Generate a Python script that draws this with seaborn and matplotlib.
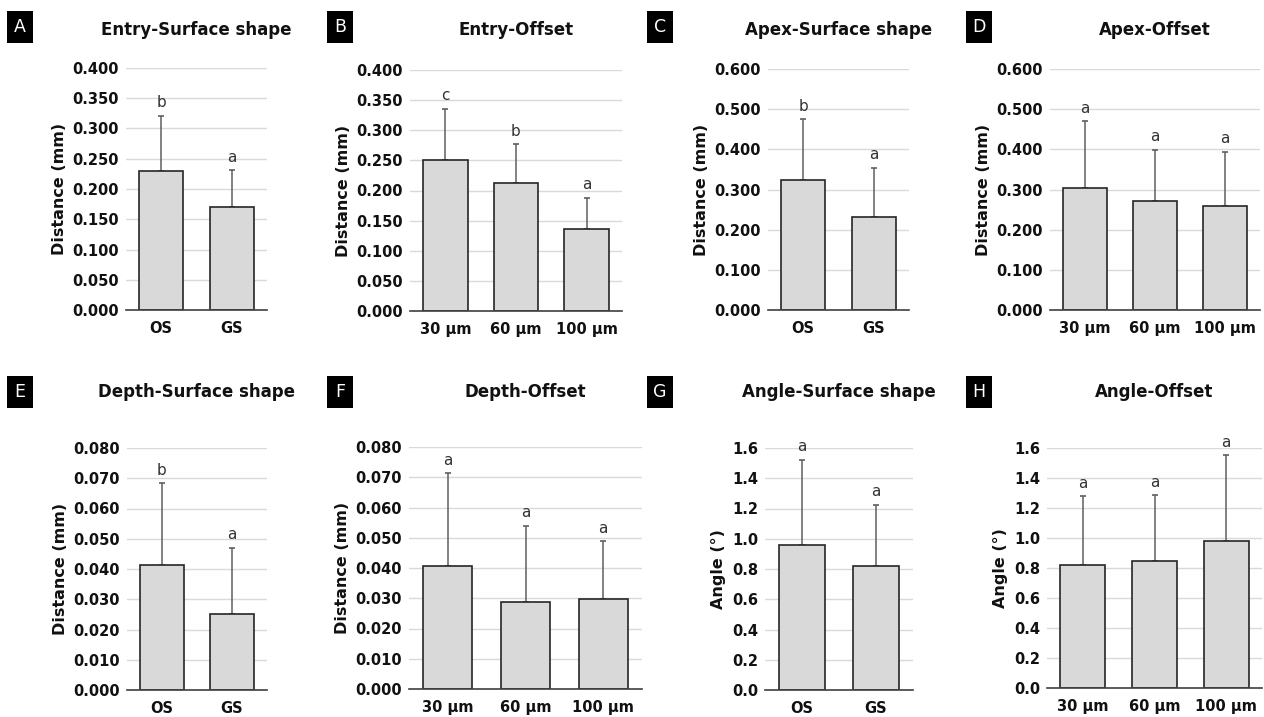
import matplotlib
matplotlib.use("Agg")
import matplotlib.pyplot as plt
from matplotlib.patches import Rectangle
from matplotlib.ticker import FormatStrFormatter, FixedLocator
import seaborn as sns
import pandas as pd
import numpy as np

sns.set_style("white")
plt.rcParams['font.family'] = ['DejaVu Sans']

# ---------------- data ----------------
shape_cats = ["OS", "GS"]
offset_cats = ["30 µm", "60 µm", "100 µm"]

entry_shape_mean = [0.229, 0.170]
entry_shape_sd = [0.092, 0.061]
entry_shape_sig = ["b", "a"]

entry_offset_mean = [0.251, 0.212, 0.136]
entry_offset_sd = [0.085, 0.065, 0.052]
entry_offset_sig = ["c", "b", "a"]

apex_shape_mean = [0.324, 0.231]
apex_shape_sd = [0.151, 0.123]
apex_shape_sig = ["b", "a"]

apex_offset_mean = [0.304, 0.271, 0.259]
apex_offset_sd = [0.166, 0.128, 0.135]
apex_offset_sig = ["a", "a", "a"]

depth_shape_mean = [0.0414, 0.0252]
depth_shape_sd = [0.0270, 0.0218]
depth_shape_sig = ["b", "a"]

depth_offset_mean = [0.0408, 0.0286, 0.0297]
depth_offset_sd = [0.0305, 0.0254, 0.0192]
depth_offset_sig = ["a", "a", "a"]

angle_shape_mean = [0.960, 0.817]
angle_shape_sd = [0.563, 0.406]
angle_shape_sig = ["a", "a"]

angle_offset_mean = [0.822, 0.849, 0.982]
angle_offset_sd = [0.457, 0.436, 0.569]
angle_offset_sig = ["a", "a", "a"]

panels = [
    # letter, title, cats, mean, sd, sig, ylabel, ymax, ystep, fmt, pixel box (x0, x1, ytop, ybot)
    ("A", "Entry-Surface shape", shape_cats, entry_shape_mean, entry_shape_sd, entry_shape_sig,
     "Distance (mm)", 0.4, 0.05, "%.3f", (126, 267, 68, 310)),
    ("B", "Entry-Offset", offset_cats, entry_offset_mean, entry_offset_sd, entry_offset_sig,
     "Distance (mm)", 0.4, 0.05, "%.3f", (410, 622, 70, 311)),
    ("C", "Apex-Surface shape", shape_cats, apex_shape_mean, apex_shape_sd, apex_shape_sig,
     "Distance (mm)", 0.6, 0.1, "%.3f", (768, 909, 69, 310)),
    ("D", "Apex-Offset", offset_cats, apex_offset_mean, apex_offset_sd, apex_offset_sig,
     "Distance (mm)", 0.6, 0.1, "%.3f", (1050, 1260, 69, 310)),
    ("E", "Depth-Surface shape", shape_cats, depth_shape_mean, depth_shape_sd, depth_shape_sig,
     "Distance (mm)", 0.08, 0.01, "%.3f", (127, 267, 448, 690)),
    ("F", "Depth-Offset", offset_cats, depth_offset_mean, depth_offset_sd, depth_offset_sig,
     "Distance (mm)", 0.08, 0.01, "%.3f", (409, 642, 447, 689)),
    ("G", "Angle-Surface shape", shape_cats, angle_shape_mean, angle_shape_sd, angle_shape_sig,
     "Angle (°)", 1.6, 0.2, "%.1f", (765, 913, 448, 690)),
    ("H", "Angle-Offset", offset_cats, angle_offset_mean, angle_offset_sd, angle_offset_sig,
     "Angle (°)", 1.6, 0.2, "%.1f", (1047, 1262, 448, 688)),
]

W, H = 1264, 717
fig = plt.figure(figsize=(W / 100, H / 100), dpi=100)

box_x = {"A": 7, "B": 327, "C": 647, "D": 966, "E": 7, "F": 327, "G": 647, "H": 966}

for letter, title, cats, mean, sd, sig, ylabel, ymax, ystep, fmt, (x0, x1, yt, yb) in panels:
    ax = fig.add_axes([x0 / W, 1 - yb / H, (x1 - x0) / W, (yb - yt) / H])
    df = pd.DataFrame({"cat": cats, "val": mean})
    sns.barplot(data=df, x="cat", y="val", order=cats, color="#d9d9d9", saturation=1,
                edgecolor="#262626", linewidth=1.2, width=0.63, errorbar=None, ax=ax, zorder=2)
    xs = np.arange(len(cats))
    ax.errorbar(xs, mean, yerr=[np.zeros(len(cats)), sd], fmt="none", ecolor="#5f5f5f",
                elinewidth=1.1, capsize=2.2, capthick=1.2, zorder=1.5)
    for xi, m, s, t in zip(xs, mean, sd, sig):
        ax.annotate(t, (xi, m + s), xytext=(0, 4), textcoords="offset points",
                    ha="center", va="bottom", fontsize=11, color="#333333")
    ax.set_xlim(-0.5, len(cats) - 0.5)
    ax.set_ylim(0, ymax)
    ax.set_yticks(np.arange(0, ymax + ystep / 2, ystep))
    ax.yaxis.set_major_formatter(FormatStrFormatter(fmt))
    ax.yaxis.grid(True, color="#d9d9d9", linewidth=1)
    ax.set_axisbelow(True)
    for sp in ["left", "top", "right"]:
        ax.spines[sp].set_visible(False)
    ax.spines["bottom"].set_color("#404040")
    ax.spines["bottom"].set_linewidth(1.2)
    ax.xaxis.set_minor_locator(FixedLocator(np.arange(-0.5, len(cats), 1.0)))
    ax.tick_params(axis="x", which="major", length=0, pad=8)
    ax.tick_params(axis="x", which="minor", length=5, width=1.2, color="#404040", direction="out")
    ax.tick_params(axis="y", length=0, pad=5)
    for lab in ax.get_xticklabels():
        lab.set_fontweight("bold"); lab.set_fontsize(10.5); lab.set_color("#111111")
    for lab in ax.get_yticklabels():
        lab.set_fontweight("bold"); lab.set_fontsize(10.5); lab.set_color("#111111")
    ax.set_xlabel("")
    ax.set_ylabel(ylabel, fontsize=11.5, fontweight="bold", color="#111111", labelpad=4)

    # title centered over axes
    row_top = 0 if yt < 200 else 362
    cx = (x0 + x1) / 2
    fig.text(cx / W, 1 - (row_top + 35) / H, title, ha="center", va="baseline",
             fontsize=12, fontweight="bold", color="#111111")
    # panel letter box
    bx = box_x[letter]
    by0 = row_top + 11 if row_top == 0 else row_top + 14
    fig.add_artist(Rectangle((bx / W, 1 - (by0 + 32) / H), 26 / W, 32 / H,
                             transform=fig.transFigure, facecolor="black", edgecolor="none"))
    fig.text((bx + 13) / W, 1 - (by0 + 16) / H, letter, ha="center", va="center",
             fontsize=12.5, color="white")

fig.savefig("out.png", dpi=100, facecolor="white")
